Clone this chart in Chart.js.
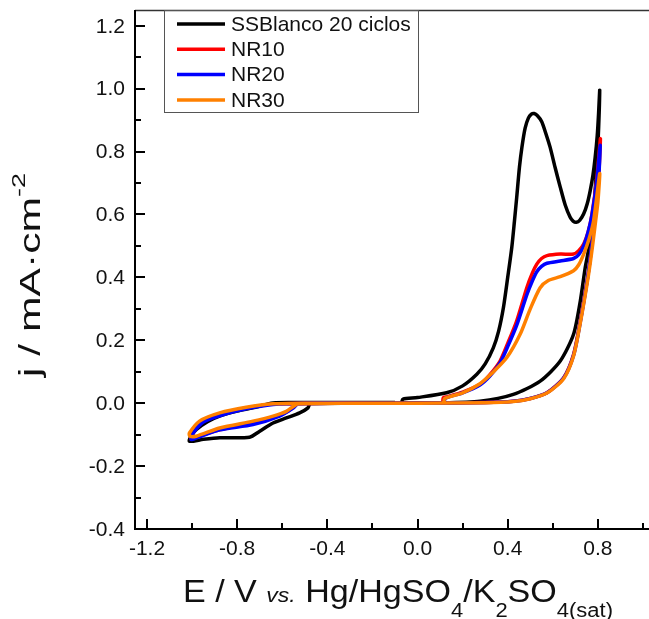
<!DOCTYPE html>
<html>
<head>
<meta charset="utf-8">
<script src="https://cdn.jsdelivr.net/npm/chart.js@4/dist/chart.umd.min.js"></script>
<style>
  html, body { margin: 0; padding: 0; background: #fff; }
  #chart { display: block; }
</style>
</head>
<body>
<canvas id="chart" width="649" height="619"></canvas>
<script>
// series names and colours
var seriesNames = ["SSBlanco 20 ciclos", "NR10", "NR20", "NR30"];
var seriesColors = ["#000000", "#ff0000", "#0000ff", "#ff8000"];

// tick labels
var xMajor = [-1.2, -0.8, -0.4, 0.0, 0.4, 0.8];
var xMinor = [-1.0, -0.6, -0.2, 0.2, 0.6, 1.0];
var yMajor = [-0.4, -0.2, 0.0, 0.2, 0.4, 0.6, 0.8, 1.0, 1.2];
var yMinor = [-0.3, -0.1, 0.1, 0.3, 0.5, 0.7, 0.9, 1.1];

// SSBlanco 20 ciclos (potential V, current mA/cm2), read along the cycle
var blancoE = [-0.07, -0.065, 0.0, 0.129, 0.2, 0.263, 0.3, 0.336, 0.36, 0.381, 0.4, 0.418, 0.43, 0.44, 0.452, 0.463, 0.477, 0.492, 0.505, 0.517, 0.532, 0.551, 0.568, 0.588, 0.61, 0.633, 0.655, 0.677, 0.69, 0.704, 0.72, 0.737, 0.753, 0.766, 0.778, 0.788, 0.797, 0.803, 0.808,
  0.806, 0.8, 0.79, 0.778, 0.762, 0.744, 0.722, 0.692, 0.633, 0.544, 0.425, 0.277, 0.1, -0.2, -0.46, -0.478, -0.486, -0.523, -0.582, -0.641, -0.7, -0.745, -0.878, -0.95, -1.012,
  -1.005, -0.982, -0.93, -0.878, -0.8, -0.73, -0.641, -0.5, -0.3, -0.1];
var blancoJ = [0.004, 0.013, 0.018, 0.033, 0.055, 0.092, 0.125, 0.176, 0.23, 0.304, 0.4, 0.495, 0.58, 0.655, 0.75, 0.814, 0.874, 0.907, 0.919, 0.921, 0.914, 0.895, 0.86, 0.814, 0.75, 0.687, 0.63, 0.591, 0.579, 0.575, 0.582, 0.602, 0.635, 0.676, 0.725, 0.782, 0.85, 0.921, 0.995,
  0.93, 0.82, 0.7, 0.58, 0.5, 0.432, 0.325, 0.219, 0.134, 0.07, 0.028, 0.006, 0.001, 0.0, -0.001, -0.002, -0.015, -0.031, -0.047, -0.063, -0.089, -0.108, -0.11, -0.115, -0.121,
  -0.105, -0.084, -0.058, -0.041, -0.025, -0.015, 0.001, 0.002, 0.002, 0.002];

// NR10
var nr10E = [0.112, 0.114, 0.129, 0.2, 0.277, 0.32, 0.366, 0.4, 0.44, 0.485, 0.51, 0.529, 0.55, 0.574, 0.633, 0.692, 0.715, 0.737, 0.757, 0.774, 0.796, 0.811,
  0.805, 0.793, 0.78, 0.766, 0.752, 0.722, 0.692, 0.648, 0.574, 0.5, 0.425, 0.3, 0.0, -0.3, -0.53, -0.55, -0.58, -0.64, -0.73, -0.878, -0.95, -1.005,
  -0.995, -0.967, -0.878, -0.76, -0.641, -0.5, -0.2, 0.11];
var nr10J = [0.0, 0.017, 0.02, 0.035, 0.06, 0.09, 0.134, 0.19, 0.262, 0.368, 0.415, 0.442, 0.46, 0.469, 0.474, 0.474, 0.485, 0.506, 0.545, 0.602, 0.719, 0.841,
  0.74, 0.63, 0.549, 0.46, 0.389, 0.262, 0.155, 0.081, 0.033, 0.015, 0.006, 0.002, 0.0, 0.0, -0.002, -0.012, -0.028, -0.045, -0.06, -0.085, -0.1, -0.112,
  -0.095, -0.062, -0.035, -0.015, -0.003, 0.0, 0.0, 0.0];

// NR20
var nr20E = [0.12, 0.122, 0.2, 0.277, 0.32, 0.366, 0.4, 0.44, 0.485, 0.51, 0.529, 0.55, 0.574, 0.633, 0.692, 0.715, 0.737, 0.757, 0.774, 0.796, 0.81,
  0.804, 0.792, 0.779, 0.765, 0.751, 0.722, 0.692, 0.648, 0.574, 0.5, 0.425, 0.3, 0.0, -0.3, -0.53, -0.55, -0.612, -0.73, -0.878, -0.98, -1.005,
  -0.99, -0.95, -0.878, -0.76, -0.641, -0.5, -0.2, 0.12];
var nr20J = [0.0, 0.015, 0.033, 0.058, 0.085, 0.128, 0.18, 0.248, 0.345, 0.39, 0.418, 0.435, 0.445, 0.452, 0.46, 0.472, 0.5, 0.545, 0.6, 0.71, 0.82,
  0.72, 0.62, 0.54, 0.455, 0.382, 0.258, 0.152, 0.08, 0.033, 0.015, 0.006, 0.002, 0.0, 0.0, -0.002, -0.015, -0.041, -0.068, -0.085, -0.11, -0.115,
  -0.09, -0.06, -0.04, -0.018, -0.004, 0.0, 0.0, 0.0];

// NR30
var nr30E = [0.118, 0.12, 0.2, 0.277, 0.33, 0.396, 0.455, 0.5, 0.544, 0.58, 0.633, 0.692, 0.715, 0.737, 0.76, 0.781, 0.808,
  0.8, 0.79, 0.778, 0.765, 0.75, 0.722, 0.692, 0.648, 0.574, 0.5, 0.425, 0.3, 0.0, -0.3, -0.53, -0.55, -0.582, -0.641, -0.73, -0.878, -0.982, -1.01,
  -1.012, -0.967, -0.878, -0.76, -0.641, -0.5, 0.118];
var nr30J = [0.0, 0.015, 0.033, 0.062, 0.095, 0.145, 0.219, 0.3, 0.367, 0.39, 0.402, 0.421, 0.44, 0.474, 0.52, 0.58, 0.73,
  0.64, 0.58, 0.51, 0.44, 0.37, 0.255, 0.15, 0.078, 0.032, 0.014, 0.005, 0.001, 0.0, 0.0, -0.002, -0.01, -0.026, -0.041, -0.057, -0.079, -0.105, -0.105,
  -0.095, -0.057, -0.031, -0.013, -0.002, 0.0, 0.0];

function toPoints(e, j) {
  var pts = [];
  for (var i = 0; i < e.length; i++) {
    pts.push({x: e[i], y: j[i]});
  }
  return pts;
}

var allE = [blancoE, nr10E, nr20E, nr30E];
var allJ = [blancoJ, nr10J, nr20J, nr30J];
var datasets = [];
for (var s = 0; s < seriesNames.length; s++) {
  datasets.push({
    label: seriesNames[s],
    data: toPoints(allE[s], allJ[s]),
    showLine: true,
    borderColor: seriesColors[s],
    borderWidth: 3.5,
    pointRadius: 0,
    tension: 0.25,
    fill: false,
    order: seriesNames.length - s
  });
}

var FONT = "'Liberation Sans', Arial, sans-serif";

function drawRun(ctx, parts, x, y) {
  // draws a list of text pieces along a baseline
  for (var i = 0; i < parts.length; i++) {
    var p = parts[i];
    ctx.font = (p.italic ? "italic " : "") + p.size + "px " + FONT;
    ctx.fillText(p.t, x, y + (p.dy || 0));
    x += ctx.measureText(p.t).width;
  }
  return x;
}

function runWidth(ctx, parts) {
  var w = 0;
  for (var i = 0; i < parts.length; i++) {
    var p = parts[i];
    ctx.font = (p.italic ? "italic " : "") + p.size + "px " + FONT;
    w += ctx.measureText(p.t).width;
  }
  return w;
}

var framePlugin = {
  id: "frame",
  afterDraw: function(chart) {
    var ctx = chart.ctx;
    var area = chart.chartArea;
    var xs = chart.scales.x, ys = chart.scales.y;
    ctx.save();

    // top border
    ctx.strokeStyle = "#333";
    ctx.lineWidth = 1.5;
    ctx.beginPath();
    ctx.moveTo(area.left, area.top + 0.5);
    ctx.lineTo(area.right, area.top + 0.5);
    ctx.stroke();

    // axes
    ctx.strokeStyle = "#000";
    ctx.lineWidth = 2;
    ctx.beginPath();
    ctx.moveTo(area.left, area.top);
    ctx.lineTo(area.left, area.bottom);
    ctx.lineTo(area.right, area.bottom);
    ctx.stroke();

    // ticks, pointing inward
    ctx.beginPath();
    xMajor.forEach(function(v) {
      var px = Math.round(xs.getPixelForValue(v));
      ctx.moveTo(px, area.bottom); ctx.lineTo(px, area.bottom - 10);
    });
    xMinor.forEach(function(v) {
      var px = Math.round(xs.getPixelForValue(v));
      ctx.moveTo(px, area.bottom); ctx.lineTo(px, area.bottom - 6);
    });
    yMajor.forEach(function(v) {
      var py = Math.round(ys.getPixelForValue(v));
      ctx.moveTo(area.left, py); ctx.lineTo(area.left + 10, py);
    });
    yMinor.forEach(function(v) {
      var py = Math.round(ys.getPixelForValue(v));
      ctx.moveTo(area.left, py); ctx.lineTo(area.left + 6, py);
    });
    ctx.stroke();

    // tick labels
    ctx.fillStyle = "#111";
    ctx.font = "21px " + FONT;
    ctx.textBaseline = "middle";
    ctx.textAlign = "center";
    xMajor.forEach(function(v) {
      ctx.fillText(v.toFixed(1), xs.getPixelForValue(v), area.bottom + 20);
    });
    ctx.textAlign = "right";
    yMajor.forEach(function(v) {
      ctx.fillText(v.toFixed(1), area.left - 10, ys.getPixelForValue(v) + 1);
    });

    // x title
    ctx.textAlign = "left";
    ctx.textBaseline = "alphabetic";
    var xt = [
      {t: "E / V ", size: 31},
      {t: "vs.", size: 21, italic: true},
      {t: " Hg/HgSO", size: 31},
      {t: "4", size: 20, dy: 15},
      {t: "/K", size: 31},
      {t: "2", size: 20, dy: 15},
      {t: "SO", size: 31},
      {t: "4(sat)", size: 20, dy: 15}
    ];
    var w = runWidth(ctx, xt);
    ctx.save();
    ctx.translate(183, 602);
    ctx.scale(430 / w, 1);
    drawRun(ctx, xt, 0, 0);
    ctx.restore();

    // y title
    var yt = [
      {t: "j / mA\u00b7cm", size: 30},
      {t: "-2", size: 19, dy: -15}
    ];
    var wy = runWidth(ctx, yt);
    ctx.save();
    ctx.translate(40, 377);
    ctx.rotate(-Math.PI / 2);
    ctx.scale(204 / wy, 1);
    drawRun(ctx, yt, 0, 0);
    ctx.restore();

    // legend box
    ctx.strokeStyle = "#555";
    ctx.lineWidth = 1;
    ctx.strokeRect(164.5, area.top + 0.5, 254, 102);
    ctx.font = "21px " + FONT;
    ctx.textBaseline = "middle";
    for (var i = 0; i < seriesNames.length; i++) {
      var cy = 24 + i * 25.3;
      ctx.strokeStyle = seriesColors[i];
      ctx.lineWidth = 3.5;
      ctx.beginPath();
      ctx.moveTo(177, cy);
      ctx.lineTo(225, cy);
      ctx.stroke();
      ctx.fillStyle = "#111";
      ctx.fillText(seriesNames[i], 231, cy + 1);
    }
    ctx.restore();
  }
};

new Chart(document.getElementById("chart"), {
  type: "scatter",
  data: { datasets: datasets },
  options: {
    responsive: false,
    animation: false,
    devicePixelRatio: 1,
    layout: { padding: { left: 135, top: 10, right: 0, bottom: 90 } },
    scales: {
      x: { type: "linear", min: -1.2533, max: 1.0267, display: false },
      y: { type: "linear", min: -0.4, max: 1.25, display: false }
    },
    plugins: {
      legend: { display: false },
      tooltip: { enabled: false }
    }
  },
  plugins: [framePlugin]
});
</script>
</body>
</html>
